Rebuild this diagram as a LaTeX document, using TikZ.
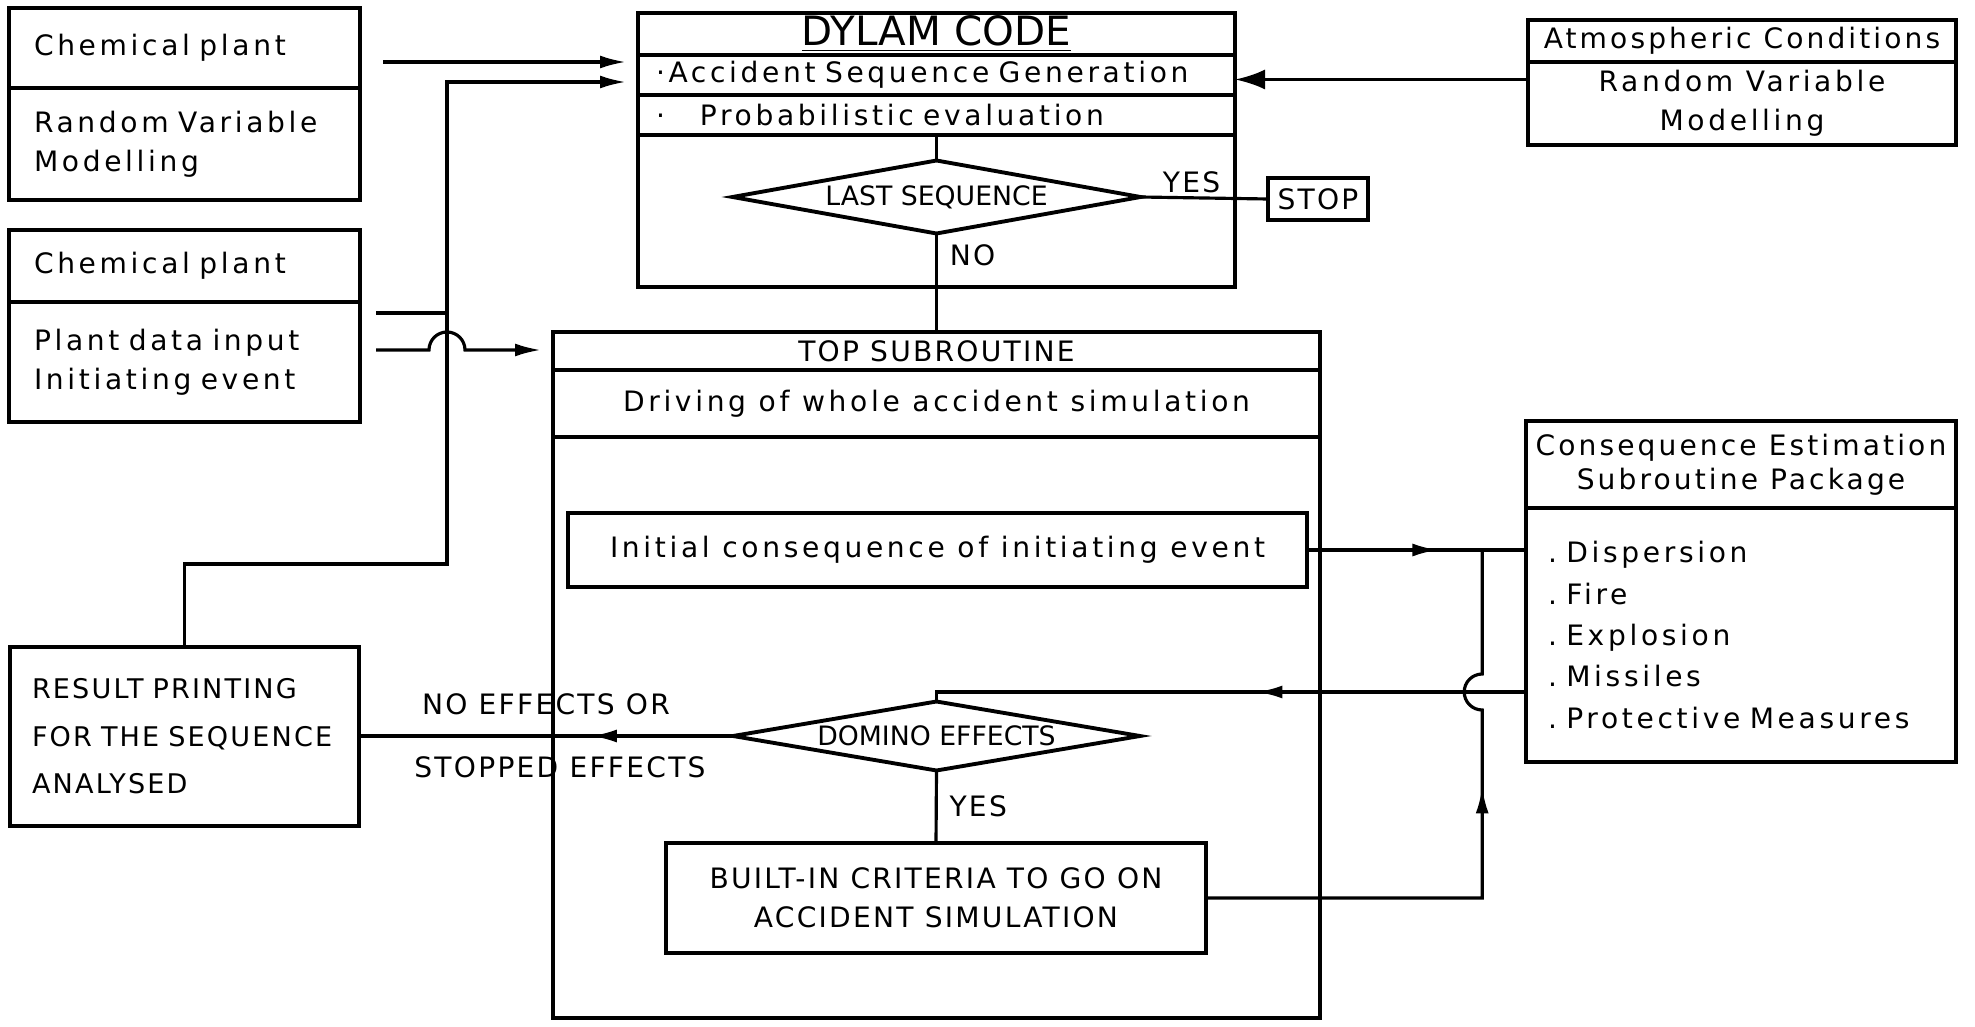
\documentclass[tikz,border=0pt]{standalone}
\usepackage{fontspec}
\setmainfont{DejaVu Sans}
\newfontfamily\plotfont[LetterSpace=13]{DejaVu Sans}
\newfontfamily\headfont[LetterSpace=11]{DejaVu Sans}
\newfontfamily\capsfont[LetterSpace=8]{DejaVu Sans}
\usetikzlibrary{arrows.meta,calc,positioning,shapes.geometric,decorations.markings}
\tikzset{cell/.style={draw,line width=1.1pt,inner sep=0pt,outer sep=0pt,align=center,
    font=\plotfont\fontsize{8}{11}\selectfont},
  cellL/.style={cell,align=left,inner xsep=2.5mm},
  caps/.style={font=\capsfont\fontsize{8}{11}\selectfont},
  decide/.style={draw,line width=1.1pt,diamond,aspect=5.6,inner sep=0pt,outer sep=0pt,
    font=\fontsize{7.6}{9}\selectfont},
  conn/.style={line width=0.9pt},
  arr/.style={conn,-{Latex[length=2.6mm,width=1.3mm]}},
  midarr/.style={conn,postaction={decorate},decoration={markings,
    mark=at position #1 with {\arrow{Latex[length=2.6mm,width=1.3mm]}}}}}

\begin{document}
\begin{tikzpicture}[x=0.1mm,y=-0.1mm]
\useasboundingbox (0,0) rectangle (1975,1027);
% input boxes on the left
\node[cellL,text width=30.1mm,minimum height=8mm] (chemA) at (184.5,48) {Chemical plant};
\node[cellL,text width=30.1mm,minimum height=11.2mm] (randA) at (184.5,144) {Random Variable\\Modelling};
\node[cellL,text width=30.1mm,minimum height=7.2mm] (chemB) at (184.5,266) {Chemical plant};
\node[cellL,text width=30.1mm,minimum height=12mm] (plantB) at (184.5,362) {Plant data input\\Initiating event};
% DYLAM code
\node[cell,minimum width=59.7mm,minimum height=4.2mm,font=\fontsize{11.5}{12}\selectfont] (dylam) at (936.5,34) {\underline{DYLAM CODE}};
\node[cellL,inner xsep=1.8mm,text width=56.1mm,minimum height=4mm] (seqgen) at (936.5,75) {·Accident Sequence Generation};
\node[cellL,inner xsep=1.8mm,text width=56.1mm,minimum height=4mm] (probev) at (936.5,115) {·\hspace{3.5mm}Probabilistic evaluation};
\node[cell,minimum width=59.7mm,minimum height=15.2mm] (dyloop) at (936.5,211) {};
\node[decide,minimum width=40.8mm,minimum height=7.3mm] (lastseq) at (936.5,197) {LAST SEQUENCE};
\node[cell,caps,minimum width=10mm,minimum height=4.2mm] (stop) at (1318,199) {STOP};
% atmospheric conditions
\node[cell,minimum width=42.8mm,minimum height=4.2mm,font=\headfont\fontsize{8}{11}\selectfont] (atmos) at (1742,41) {Atmospheric Conditions};
\node[cell,minimum width=42.8mm,minimum height=8.3mm] (atmrv) at (1742,103.5) {Random Variable\\Modelling};
% top subroutine
\node[cell,caps,minimum width=76.7mm,minimum height=3.8mm] (topsub) at (936.5,351) {TOP SUBROUTINE};
\node[cell,minimum width=76.7mm,minimum height=6.7mm] (driving) at (936.5,403.5) {Driving of whole accident simulation};
\node[cell,minimum width=76.7mm,minimum height=58.1mm] (topbody) at (936.5,727.5) {};
\node[cell,minimum width=73.9mm,minimum height=7.4mm] (initcons) at (937.5,550) {Initial consequence of initiating event};
\node[decide,minimum width=40.7mm,minimum height=6.9mm] (domino) at (936.5,736) {DOMINO EFFECTS};
\node[cell,caps,minimum width=54mm,minimum height=11mm] (builtin) at (936,898) {BUILT-IN CRITERIA TO GO ON\\ACCIDENT SIMULATION};
% result printing
\node[cellL,inner xsep=2.2mm,text width=30.5mm,minimum height=17.9mm,
  font=\capsfont\fontsize{7.7}{13.5}\selectfont] (result) at (184.5,736.5)
  {\mbox{RESULT PRINTING}\\\mbox{FOR THE SEQUENCE}\\\mbox{ANALYSED}};
% consequence package
\node[cell,minimum width=43mm,minimum height=8.7mm,font=\headfont\fontsize{8}{9.8}\selectfont] (conshead) at (1741,464.5) {Consequence Estimation\\Subroutine Package};
\node[cellL,inner xsep=2.2mm,text width=38.6mm,minimum height=25.4mm,font=\plotfont\fontsize{8}{11.8}\selectfont] (consbody) at (1741,635)
  {.\ Dispersion\\.\ Fire\\.\ Explosion\\.\ Missiles\\.\ Protective Measures};

% connectors
\coordinate (chemout) at (383,62);
\draw[arr,shorten >=1.2mm] (chemout) -- (chemout -| seqgen.west);
\coordinate (loopturn) at (447,564);
\draw[arr,shorten >=1.2mm] (result.north) |- (loopturn) |- ($(seqgen.west)+(0,7)$);
\coordinate (plantout) at (376,313);
\draw[conn] (plantout) -- (plantout -| loopturn);
\coordinate (plantev) at (376,350);
\draw[arr,shorten >=1.2mm] (plantev) -- ($(plantev -| loopturn)+(-18,0)$) arc (180:0:1.8mm) -- (plantev -| topsub.west);
\draw[conn] (probev.south) -- (lastseq.north);
\draw[conn] (lastseq.east) -- node[pos=0.4,above,inner sep=1pt,caps] (yeslast) {YES} (stop.west);
\draw[conn] (lastseq.south) -- node[pos=0.22,right,caps] (nolast) {NO} (topsub.north);
\coordinate (atmin) at ($(atmrv.west)+(0,-24)$);
\draw[conn,-{Latex[length=3mm,width=2mm]}] (atmin) -- (atmin -| seqgen.east);
\draw[midarr=0.6] (initcons.east) -- (initcons.east -| consbody.west);
\coordinate (junc) at ($(initcons.east)!0.8!(initcons.east -| consbody.west)$);
\coordinate (domin) at ($(consbody.west)+(0,57)$);
\draw[midarr=0.45] (domin) -| (domino.north);
\draw[midarr=0.6] (builtin.east) -| ($(domin -| junc)+(0,18)$) arc (270:90:1.8mm) -- (junc);
\draw[midarr=0.38] (domino.west) -- node[above=0.8mm,caps] (noeff) {NO EFFECTS OR}
  node[below=0.7mm,xshift=1.4mm,caps] (stopeff) {STOPPED EFFECTS} (domino.west -| result.east);
\draw[conn] (domino.south) -- node[right,caps] (yesdom) {YES} (builtin.north);
\end{tikzpicture}
\end{document}
